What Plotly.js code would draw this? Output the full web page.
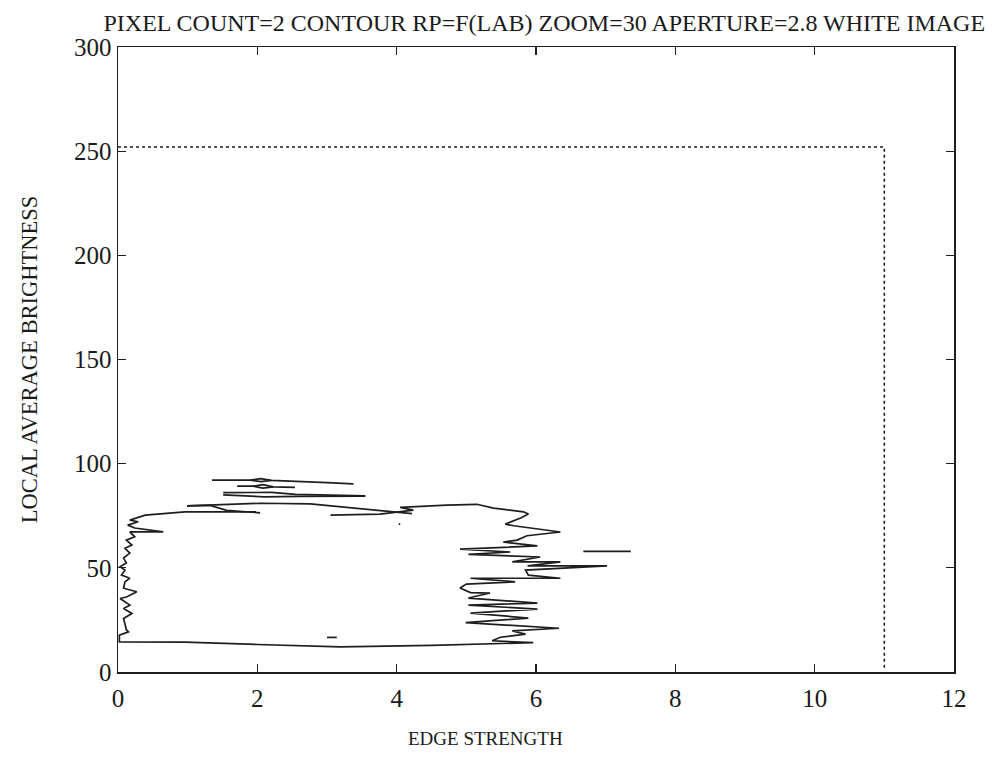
<!DOCTYPE html>
<html>
<head>
<meta charset="utf-8">
<script src="https://cdn.plot.ly/plotly-3.0.1.min.js"></script>
<style>html,body{margin:0;padding:0;background:#fff;}#chart{width:995px;height:761px;}</style>
</head>
<body>
<div id="chart"></div>
<script>
// Main traced contour (edge strength, local average brightness)
var mainX = [1.98,0.96,0.39,0.17,0.29,0.14,0.24,0.65,0.17,0.24,0.12,0.20,0.10,0.17,0.08,0.12,0.03,0.10,0.05,0.17,0.10,0.08,0.27,0.13,0.03,0.17,0.08,0.20,0.08,0.10,0.12,0.15,0.02,0.02,0.96,2.0,3.19,4.5,5.96,5.37,5.49,5.85,5.66,6.33,4.99,5.89,5.06,6.02,5.03,6.02,5.03,5.34,5.06,4.91,5.0,5.70,5.06,6.35,5.89,5.85,7.02,5.88,6.35,5.66,6.06,5.03,5.63,4.91,6.02,5.53,5.73,5.87,6.35,5.68,5.56,5.78,5.89,5.82,5.39,5.15,4.72,4.05,4.24,3.76,3.05];
var mainY = [76.9,76.9,75.3,72.9,72.1,70.5,69.1,67.3,67.3,64.9,63.3,60.9,59.4,57.1,54.7,52.3,50.5,48.9,46.5,45.0,43.3,40.2,38.5,36.1,35.3,32.1,30.5,28.1,25.7,23.2,20.3,19.3,17.7,14.5,14.3,13.2,12.1,12.8,14.1,15.0,16.7,18.2,19.7,21.0,23.7,25.9,28.3,30.2,32.1,33.1,35.5,37.9,38.1,40.3,42.2,43.3,45.0,45.0,46.5,48.9,50.9,50.9,52.9,52.9,55.2,56.5,57.6,59.0,60.5,62.4,63.3,65.4,67.2,70.2,71.0,73.9,75.8,76.9,78.7,80.5,80.1,79.0,77.7,75.8,75.3];
// Upper arc and its branch
var arcX = [0.99,1.45,2.04,2.76,3.45,4.05,4.22];
var arcY = [79.7,80.3,81.0,80.7,78.4,76.6,76.0];
var branchX = [0.99,1.32,1.56,2.04];
var branchY = [79.7,80.0,77.6,76.4];
// Stacked thin loops above the contour
var loop1X = [1.35,1.9,2.05,2.2,3.0,3.38];
var loop1Y = [92.1,92.1,92.8,92.0,90.9,90.3];
var loop1bX = [1.9,2.05,2.2];
var loop1bY = [92.1,91.4,92.0];
var loop2X = [1.71,1.94,2.08,2.23,2.54];
var loop2Y = [89.2,89.2,89.9,88.9,88.6];
var loop2bX = [1.94,2.08,2.23];
var loop2bY = [89.2,88.3,88.9];
var loop3X = [1.51,2.2,2.55,3.55];
var loop3Y = [86.1,86.2,85.3,84.5];
var loop3bX = [1.51,2.1,2.6,3.55];
var loop3bY = [85.0,84.1,84.3,84.4];
// Isolated short pieces
var seg1X = [3.0,3.14];  var seg1Y = [16.6,16.6];
var seg2X = [6.68,7.36]; var seg2Y = [57.9,57.9];
var seg3X = [4.03,4.05]; var seg3Y = [71.2,70.8];
// Dotted bounding line
var boundX = [0,11,11];
var boundY = [252,252,2];
// Axis ticks
var xTicks = [0,2,4,6,8,10,12];
var yTicks = [0,50,100,150,200,250,300];

var ink = '#1e1e1e';
function seg(x, y) {
  return {x: x, y: y, type: 'scatter', mode: 'lines', line: {color: ink, width: 1.7}, showlegend: false, hoverinfo: 'skip'};
}
var traces = [
  seg(mainX, mainY), seg(arcX, arcY), seg(branchX, branchY),
  seg(loop1X, loop1Y), seg(loop1bX, loop1bY),
  seg(loop2X, loop2Y), seg(loop2bX, loop2bY),
  seg(loop3X, loop3Y), seg(loop3bX, loop3bY),
  seg(seg1X, seg1Y), seg(seg2X, seg2Y), seg(seg3X, seg3Y),
  {x: boundX, y: boundY, type: 'scatter', mode: 'lines', line: {color: ink, width: 1.6, dash: 'dot'}, showlegend: false, hoverinfo: 'skip'}
];

var serif = 'Liberation Serif, Times New Roman, serif';
var layout = {
  width: 995, height: 761,
  margin: {l: 118, r: 41, t: 47, b: 89},
  paper_bgcolor: '#fff', plot_bgcolor: '#fff',
  font: {family: serif, color: '#1a1a1a', size: 22},
  title: {text: 'PIXEL COUNT=2 CONTOUR RP=F(LAB) ZOOM=30 APERTURE=2.8 WHITE IMAGE', x: 0.547, xanchor: 'center', y: 0.97, yanchor: 'middle', font: {family: serif, size: 24, color: '#1a1a1a'}},
  xaxis: {
    range: [0, 12], tickvals: xTicks, ticktext: xTicks.map(String),
    showgrid: false, zeroline: false, showline: true, linecolor: ink, linewidth: 1.5, mirror: 'ticks',
    ticks: 'inside', ticklen: 8, tickwidth: 1.3, tickcolor: ink,
    tickfont: {family: serif, size: 25}, ticklabelstandoff: 3,
    automargin: false
  },
  yaxis: {
    range: [0, 300], tickvals: yTicks, ticktext: yTicks.map(String),
    showgrid: false, zeroline: false, showline: true, linecolor: ink, linewidth: 1.5, mirror: 'ticks',
    ticks: 'inside', ticklen: 8, tickwidth: 1.3, tickcolor: ink,
    tickfont: {family: serif, size: 25}, ticklabelstandoff: 0,
    title: {text: 'LOCAL AVERAGE BRIGHTNESS', font: {family: serif, size: 22.5}, standoff: 30},
    automargin: false
  },
  annotations: [{
    text: 'EDGE STRENGTH', xref: 'paper', yref: 'paper', x: (485 - 118) / 836, y: -(738 - 672) / 625,
    xanchor: 'center', yanchor: 'middle', showarrow: false, font: {family: serif, size: 19, color: '#1a1a1a'}
  }]
};
Plotly.newPlot('chart', traces, layout, {staticPlot: true, displayModeBar: false});
</script>
</body>
</html>
